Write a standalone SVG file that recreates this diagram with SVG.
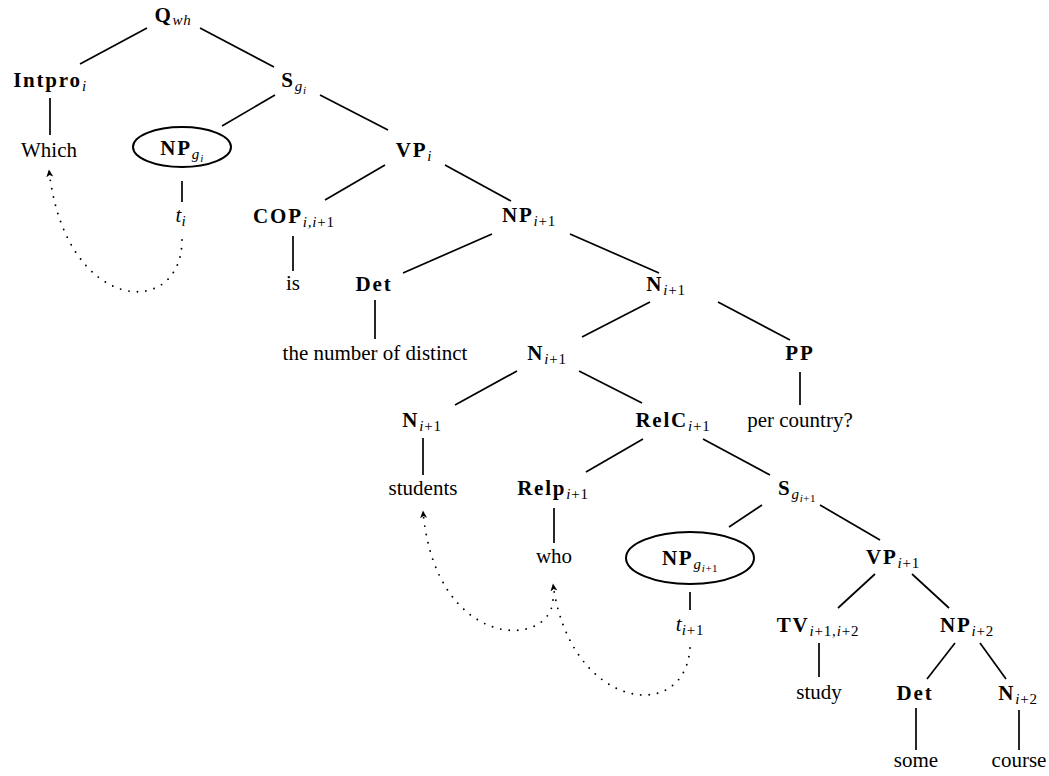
<svg xmlns="http://www.w3.org/2000/svg" width="1049" height="776" viewBox="0 0 1049 776">
<style>
.b{font-family:"Liberation Serif",serif;font-weight:bold;font-size:21px;letter-spacing:1.8px;fill:#000}
.w{font-family:"Liberation Serif",serif;font-size:21px;fill:#000}
.s{font-family:"Liberation Serif",serif;font-style:italic;font-weight:normal;font-size:15px;letter-spacing:0.8px}
.u{font-family:"Liberation Serif",serif;font-style:normal;font-weight:normal;font-size:15px;letter-spacing:0.8px}
.ss{font-family:"Liberation Serif",serif;font-style:italic;font-weight:normal;font-size:11px;letter-spacing:0.5px}
.su{font-family:"Liberation Serif",serif;font-style:normal;font-weight:normal;font-size:11px;letter-spacing:0.5px}
.t{font-family:"Liberation Serif",serif;font-style:italic;font-size:21px;fill:#000}
.e{fill:none;stroke:#000;stroke-width:2}
#edges line{stroke:#000;stroke-width:1.7}
.dot{fill:none;stroke:#000;stroke-width:1.9;stroke-linecap:round;stroke-dasharray:0 8.5}
</style>
<defs>
<marker id="ah" markerWidth="10" markerHeight="10" refX="7" refY="5" orient="auto" markerUnits="userSpaceOnUse">
<path d="M0,1.5 L7.5,5 L0,8.5 L2,5 Z" fill="#000"/>
</marker>
</defs>
<rect width="1049" height="776" fill="#fff"/>
<g id="edges">
<line x1="147" y1="28" x2="80" y2="64"/>
<line x1="200" y1="28" x2="274" y2="67"/>
<line x1="50" y1="98" x2="50" y2="135"/>
<line x1="275" y1="95" x2="222" y2="126"/>
<line x1="320" y1="95" x2="388" y2="130"/>
<line x1="182" y1="181" x2="182" y2="202"/>
<line x1="385" y1="165" x2="325" y2="200"/>
<line x1="445" y1="165" x2="511" y2="201"/>
<line x1="293" y1="236" x2="293" y2="271"/>
<line x1="492" y1="234" x2="403" y2="273"/>
<line x1="570" y1="234" x2="659" y2="273"/>
<line x1="375" y1="300" x2="375" y2="339"/>
<line x1="650" y1="302" x2="582" y2="337"/>
<line x1="718" y1="302" x2="790" y2="340"/>
<line x1="800" y1="372" x2="800" y2="405"/>
<line x1="517" y1="371" x2="455" y2="405"/>
<line x1="579" y1="371" x2="642" y2="403"/>
<line x1="423" y1="438" x2="423" y2="475"/>
<line x1="643" y1="439" x2="586" y2="472"/>
<line x1="703" y1="439" x2="770" y2="475"/>
<line x1="554" y1="508" x2="554" y2="543"/>
<line x1="762" y1="505" x2="729" y2="527"/>
<line x1="820" y1="505" x2="880" y2="540"/>
<line x1="690" y1="592" x2="690" y2="610"/>
<line x1="875" y1="574" x2="838" y2="608"/>
<line x1="912" y1="574" x2="949" y2="608"/>
<line x1="819" y1="643" x2="819" y2="677"/>
<line x1="955" y1="643" x2="927" y2="679"/>
<line x1="980" y1="643" x2="1006" y2="679"/>
<line x1="916" y1="708" x2="916" y2="750"/>
<line x1="1019" y1="710" x2="1019" y2="750"/>
<path class="dot" d="M182,240 C182,320 65,315 49,170" marker-end="url(#ah)"/>
<path class="dot" d="M553,600 C550,650 435,650 423,511" marker-end="url(#ah)"/>
<path class="dot" d="M690,648 C685,725 570,710 553,584" marker-end="url(#ah)"/>
</g>
<g id="n-qwh"><text class="b" x="173" y="22" text-anchor="middle">Q<tspan class="s" font-size="13" dy="3">wh</tspan></text></g>
<g id="n-intpro"><text class="b" x="50" y="87" text-anchor="middle">Intpro<tspan class="s" dy="4">i</tspan></text></g>
<g id="n-sgi"><text class="b" x="294" y="87" text-anchor="middle">S<tspan class="s" dy="4">g</tspan><tspan class="ss" dy="3">i</tspan></text></g>
<g id="n-which"><text class="w" x="49" y="157" text-anchor="middle">Which</text></g>
<g id="n-npgi"><ellipse class="e" cx="182" cy="147" rx="49" ry="20"/><text class="b" x="182" y="155" text-anchor="middle">NP<tspan class="s" dy="4">g</tspan><tspan class="ss" dy="3">i</tspan></text></g>
<g id="n-ti"><text class="t" x="181" y="222" text-anchor="middle">t<tspan class="s" dy="4">i</tspan></text></g>
<g id="n-vpi"><text class="b" x="414" y="157" text-anchor="middle">VP<tspan class="s" dy="4">i</tspan></text></g>
<g id="n-cop"><text class="b" x="294" y="223" text-anchor="middle">COP<tspan class="s" dy="4">i,i</tspan><tspan class="u">+1</tspan></text></g>
<g id="n-is"><text class="w" x="293" y="290" text-anchor="middle">is</text></g>
<g id="n-np1"><text class="b" x="529" y="222" text-anchor="middle">NP<tspan class="s" dy="4">i</tspan><tspan class="u">+1</tspan></text></g>
<g id="n-det1"><text class="b" x="374" y="291" text-anchor="middle">Det</text></g>
<g id="n-thenum"><text class="w" x="375" y="360" text-anchor="middle">the number of distinct</text></g>
<g id="n-n1"><text class="b" x="666" y="291" text-anchor="middle">N<tspan class="s" dy="4">i</tspan><tspan class="u">+1</tspan></text></g>
<g id="n-n2"><text class="b" x="547" y="360" text-anchor="middle">N<tspan class="s" dy="4">i</tspan><tspan class="u">+1</tspan></text></g>
<g id="n-pp"><text class="b" x="800" y="360" text-anchor="middle">PP</text></g>
<g id="n-percountry"><text class="w" x="800" y="427" text-anchor="middle">per country?</text></g>
<g id="n-n3"><text class="b" x="422" y="427" text-anchor="middle">N<tspan class="s" dy="4">i</tspan><tspan class="u">+1</tspan></text></g>
<g id="n-relc"><text class="b" x="673" y="427" text-anchor="middle">RelC<tspan class="s" dy="4">i</tspan><tspan class="u">+1</tspan></text></g>
<g id="n-students"><text class="w" x="423" y="495" text-anchor="middle">students</text></g>
<g id="n-relp"><text class="b" x="553" y="495" text-anchor="middle">Relp<tspan class="s" dy="4">i</tspan><tspan class="u">+1</tspan></text></g>
<g id="n-sgi1"><text class="b" x="797" y="495" text-anchor="middle">S<tspan class="s" dy="4">g</tspan><tspan class="ss" dy="3">i</tspan><tspan class="su">+1</tspan></text></g>
<g id="n-who"><text class="w" x="554" y="563" text-anchor="middle">who</text></g>
<g id="n-npgi1"><ellipse class="e" cx="690" cy="558" rx="64" ry="26"/><text class="b" x="690" y="565" text-anchor="middle">NP<tspan class="s" dy="4">g</tspan><tspan class="ss" dy="3">i</tspan><tspan class="su">+1</tspan></text></g>
<g id="n-ti1"><text class="t" x="690" y="631" text-anchor="middle">t<tspan class="s" dy="4">i</tspan><tspan class="u">+1</tspan></text></g>
<g id="n-vpi1"><text class="b" x="893" y="564" text-anchor="middle">VP<tspan class="s" dy="4">i</tspan><tspan class="u">+1</tspan></text></g>
<g id="n-tv"><text class="b" x="818" y="632" text-anchor="middle">TV<tspan class="s" dy="4">i</tspan><tspan class="u">+1,</tspan><tspan class="s">i</tspan><tspan class="u">+2</tspan></text></g>
<g id="n-np2"><text class="b" x="967" y="632" text-anchor="middle">NP<tspan class="s" dy="4">i</tspan><tspan class="u">+2</tspan></text></g>
<g id="n-study"><text class="w" x="819" y="699" text-anchor="middle">study</text></g>
<g id="n-det2"><text class="b" x="915" y="700" text-anchor="middle">Det</text></g>
<g id="n-ni2"><text class="b" x="1018" y="700" text-anchor="middle">N<tspan class="s" dy="4">i</tspan><tspan class="u">+2</tspan></text></g>
<g id="n-some"><text class="w" x="916" y="767" text-anchor="middle">some</text></g>
<g id="n-course"><text class="w" x="1019" y="767" text-anchor="middle">course</text></g>
</svg>
